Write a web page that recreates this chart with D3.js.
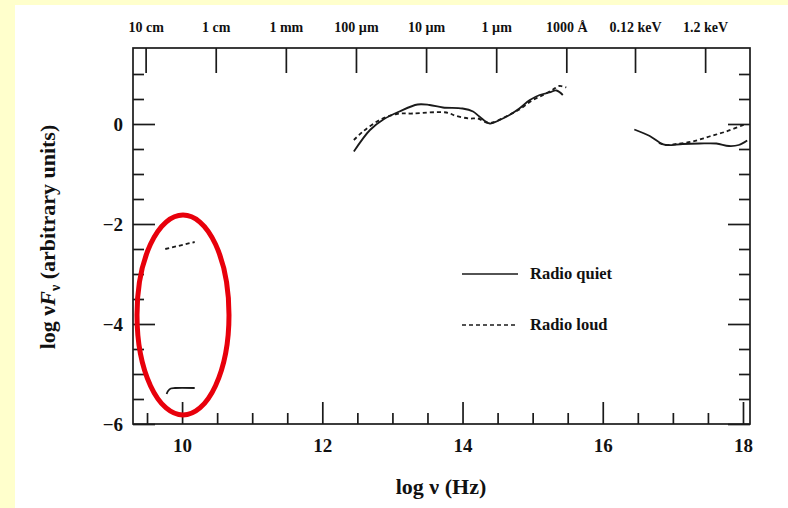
<!DOCTYPE html>
<html>
<head>
<meta charset="utf-8">
<script src="https://cdn.jsdelivr.net/npm/d3@7"></script>
<style>
  body { margin: 0; background: #ffffcc; }
  svg { display: block; }
  text { font-family: "Liberation Serif", "Times New Roman", serif; font-weight: bold; fill: #111; }
</style>
</head>
<body>
<svg id="chart" width="788" height="508"></svg>
<script>
// ---- data ----
const quietRadio = [[9.78, -5.40], [9.80, -5.34], [9.84, -5.29], [9.90, -5.28], [10.18, -5.28]];
const loudRadio = [[9.76, -2.50], [10.18, -2.36]];

const quietOpt = [[12.45, -0.55], [12.68, -0.12], [12.87, 0.09], [13.10, 0.25], [13.36, 0.39],
  [13.53, 0.38], [13.72, 0.33], [14.00, 0.31], [14.15, 0.25], [14.24, 0.15], [14.39, 0.01],
  [14.53, 0.08], [14.67, 0.18], [14.81, 0.31], [14.96, 0.48], [15.10, 0.58], [15.24, 0.63],
  [15.34, 0.67], [15.43, 0.58]];
const loudOpt = [[12.45, -0.32], [12.58, -0.15], [12.82, 0.08], [13.06, 0.20], [13.29, 0.21],
  [13.77, 0.23], [13.91, 0.16], [14.10, 0.11], [14.22, 0.11], [14.34, 0.03], [14.43, 0.03],
  [14.62, 0.15], [14.81, 0.29], [15.00, 0.48], [15.15, 0.58], [15.29, 0.69], [15.38, 0.76],
  [15.48, 0.73]];

const quietX = [[16.45, -0.11], [16.67, -0.24], [16.81, -0.37], [16.90, -0.42], [17.14, -0.40],
  [17.38, -0.39], [17.62, -0.39], [17.80, -0.44], [17.94, -0.42], [18.06, -0.33]];
const loudX = [[16.80, -0.38], [16.90, -0.42], [17.05, -0.40], [17.28, -0.35], [17.52, -0.25],
  [17.76, -0.15], [18.04, 0.0]];

const xMajor = [10, 12, 14, 16, 18];
const xMinor = [9.5, 10.5, 11, 11.5, 12.5, 13, 13.5, 14.5, 15, 15.5, 16.5, 17, 17.5];
const yMajor = [0, -2, -4, -6];
const yMinor = [1, 0.5, -0.5, -1, -1.5, -2.5, -3, -3.5, -4.5, -5, -5.5];
const topTicks = [9.48, 10.48, 11.48, 12.48, 13.48, 14.48, 15.48, 16.46, 17.46];
const topLabels = ["10 cm", "1 cm", "1 mm", "100 \u00b5m", "10 \u00b5m", "1 \u00b5m", "1000 \u00c5", "0.12 keV", "1.2 keV"];
const legendNames = ["Radio quiet", "Radio loud"];

// ---- layout ----
const svg = d3.select("#chart");
const plotL = 133, plotR = 750, plotT = 48, plotB = 424;
const ink = "#1a1a1a";

svg.append("rect").attr("x", 15).attr("y", 5).attr("width", 773).attr("height", 503).attr("fill", "#fff");

const x = d3.scaleLinear().domain([9.3, 18.1]).range([plotL, plotR]);
const y = d3.scaleLinear().domain([-6, 1.52]).range([plotB, plotT]);

// frame
svg.append("rect")
  .attr("x", plotL).attr("y", plotT)
  .attr("width", plotR - plotL).attr("height", plotB - plotT)
  .attr("fill", "none").attr("stroke", ink).attr("stroke-width", 1.7);

function styleAxis(g) {
  g.select(".domain").remove();
  g.selectAll(".tick line").attr("stroke", ink).attr("stroke-width", 1.7);
}

// bottom
svg.append("g").attr("transform", `translate(0,${plotB})`)
  .call(d3.axisBottom(x).tickValues(xMajor).tickSize(-22).tickFormat(d3.format("d")))
  .call(styleAxis)
  .call(g => g.selectAll("text").attr("font-size", 19).attr("fill", ink).attr("y", 15));
svg.append("g").attr("transform", `translate(0,${plotB})`)
  .call(d3.axisBottom(x).tickValues(xMinor).tickSize(-11).tickFormat(""))
  .call(styleAxis);

// top (wavelength / energy)
svg.append("g").attr("transform", `translate(0,${plotT})`)
  .call(d3.axisTop(x).tickValues(topTicks).tickSize(-25).tickFormat((d, i) => topLabels[i]))
  .call(styleAxis)
  .call(g => g.selectAll("text").attr("font-size", 14).attr("fill", ink).attr("y", -16));

// left
svg.append("g").attr("transform", `translate(${plotL},0)`)
  .call(d3.axisLeft(y).tickValues(yMajor).tickSize(-22).tickFormat(d => d < 0 ? "\u2212" + (-d) : d))
  .call(styleAxis)
  .call(g => g.selectAll("text").attr("font-size", 19).attr("fill", ink).attr("x", -10));
svg.append("g").attr("transform", `translate(${plotL},0)`)
  .call(d3.axisLeft(y).tickValues(yMinor).tickSize(-11).tickFormat(""))
  .call(styleAxis);

// right
svg.append("g").attr("transform", `translate(${plotR},0)`)
  .call(d3.axisRight(y).tickValues(yMajor).tickSize(-22).tickFormat(""))
  .call(styleAxis);
svg.append("g").attr("transform", `translate(${plotR},0)`)
  .call(d3.axisRight(y).tickValues(yMinor).tickSize(-11).tickFormat(""))
  .call(styleAxis);

// axis titles
svg.append("text")
  .attr("x", 441).attr("y", 494)
  .attr("text-anchor", "middle").attr("font-size", 22)
  .text("log \u03bd (Hz)");

const yt = svg.append("text")
  .attr("transform", "translate(55,237) rotate(-90)")
  .attr("text-anchor", "middle").attr("font-size", 22);
yt.append("tspan").text("log \u03bd");
yt.append("tspan").attr("font-style", "italic").text("F");
yt.append("tspan").attr("font-size", 14).attr("dy", 5).text("\u03bd");
yt.append("tspan").attr("dy", -5).text(" (arbitrary units)");

// curves
const line = d3.line()
  .x(d => x(d[0]))
  .y(d => y(d[1]))
  .curve(d3.curveCatmullRom.alpha(0.5));

const curves = [
  { pts: quietRadio, dash: null },
  { pts: quietOpt, dash: null },
  { pts: quietX, dash: null },
  { pts: loudRadio, dash: "4,3" },
  { pts: loudOpt, dash: "4,3" },
  { pts: loudX, dash: "4,3" }
];

svg.append("g").selectAll("path")
  .data(curves)
  .join("path")
  .attr("d", d => line(d.pts))
  .attr("fill", "none")
  .attr("stroke", ink)
  .attr("stroke-width", 1.8)
  .attr("stroke-dasharray", d => d.dash);

// legend
const leg = svg.append("g");
legendNames.forEach((name, i) => {
  const ly = 274 + i * 51;
  leg.append("line")
    .attr("x1", 462).attr("x2", 518).attr("y1", ly).attr("y2", ly)
    .attr("stroke", ink).attr("stroke-width", 1.7)
    .attr("stroke-dasharray", i === 1 ? "4,3" : null);
  leg.append("text")
    .attr("x", 530).attr("y", ly + 5)
    .attr("font-size", 16.5)
    .text(name);
});

// red highlight around the radio points
svg.append("ellipse")
  .attr("cx", 183).attr("cy", 315).attr("rx", 46).attr("ry", 100)
  .attr("fill", "none").attr("stroke", "#e8000b").attr("stroke-width", 5);
</script>
</body>
</html>
